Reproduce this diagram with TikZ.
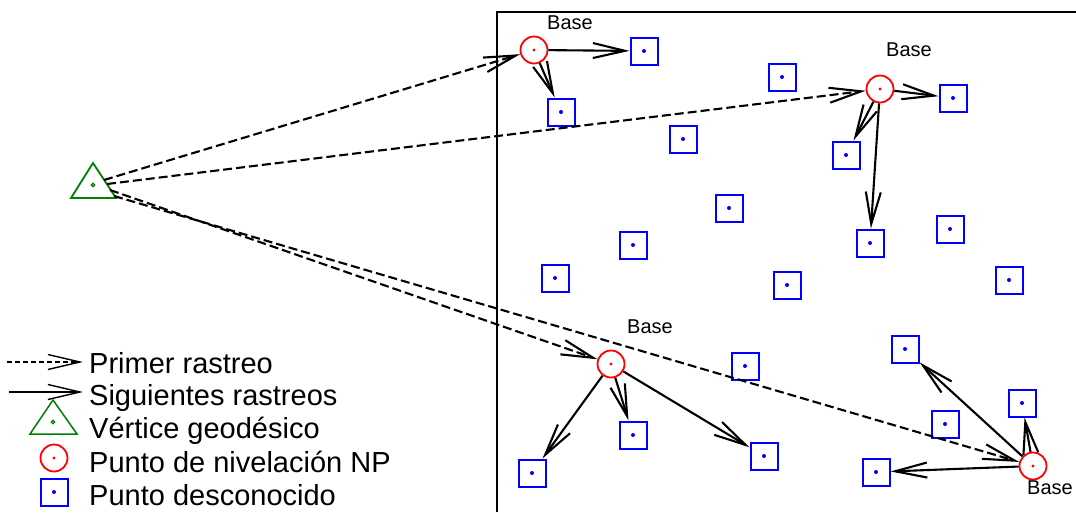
\documentclass[tikz,border=0pt]{standalone}
\usepackage{fontspec}
\setmainfont{Liberation Sans}
\usetikzlibrary{arrows.meta}
\definecolor{ptred}{RGB}{255,0,0}
\definecolor{ptblue}{RGB}{0,0,255}
\definecolor{ptgreen}{RGB}{0,128,0}
\tikzset{
 unk/.style={draw=ptblue, line width=2pt, minimum size=27pt, inner sep=0pt,
   path picture={\fill[ptblue] (path picture bounding box.center) circle (2pt);}},
 np/.style={circle, draw=ptred, line width=1.8pt, minimum size=27pt, inner sep=0pt,
   path picture={\fill[ptred] (path picture bounding box.center) circle (1.6pt);}},
 trk/.style={line width=2.1pt, -{Straight Barb[length=32pt,width=15pt]}},
 first/.style={trk, dash pattern=on 9pt off 4pt},
 legtrk/.style={line width=1.4pt, -{Straight Barb[length=32pt,width=15pt]}},
 legfirst/.style={legtrk, dash pattern=on 5pt off 3pt},
 baselbl/.style={font=\fontsize{20}{24}\selectfont, inner sep=0pt},
 leg/.style={font=\fontsize{29}{34}\selectfont, anchor=base west, inner sep=0pt},
 vert/.style={draw=ptgreen, line width=1.8pt, line join=miter},
}
\begin{document}
\begin{tikzpicture}[x=1pt,y=-1pt]
\useasboundingbox (0,0) rectangle (1076,512);
% frame
\draw[line width=2.2pt] (497,512) -- (497,12) -- (1076,12);
% geodetic vertex
\draw[vert] (93,163) -- (116,198) -- (71,198) -- cycle;
\draw[ptgreen, line width=1.2pt] (93,185) circle (1.8pt);
\coordinate (t1) at (104,180);
\coordinate (t2) at (107,184);
\coordinate (t3) at (110,190);
\coordinate (t4) at (114,196);
% bases
\node[np] (b1) at (534,50) {};
\node[np] (b2) at (880,89) {};
\node[np] (b3) at (611,364) {};
\node[np] (b4) at (1033,466) {};
\node[baselbl] (lb1) at (570,23) {Base};
\node[baselbl] (lb2) at (909,50) {Base};
\node[baselbl] (lb3) at (650,327) {Base};
\node[baselbl] (lb4) at (1050,488) {Base};
% unknown points
\node[unk] (p1) at (644,51) {};
\node[unk] (p2) at (561,112) {};
\node[unk] (p3) at (782,77) {};
\node[unk] (p4) at (683,139) {};
\node[unk] (p5) at (953,98) {};
\node[unk] (p6) at (846,155) {};
\node[unk] (p7) at (729,208) {};
\node[unk] (p8) at (870,243) {};
\node[unk] (p9) at (950,229) {};
\node[unk] (p10) at (633,245) {};
\node[unk] (p11) at (555,278) {};
\node[unk] (p12) at (787,285) {};
\node[unk] (p13) at (1009,280) {};
\node[unk] (p14) at (905,349) {};
\node[unk] (p15) at (745,366) {};
\node[unk] (p16) at (1022,403) {};
\node[unk] (p17) at (945,424) {};
\node[unk] (p18) at (633,435) {};
\node[unk] (p19) at (764,456) {};
\node[unk] (p20) at (532,473) {};
\node[unk] (p21) at (876,472) {};
% first tracking
\draw[first] (t1) -- (b1);
\draw[first] (t2) -- (b2);
\draw[first] (t3) -- (b3);
\draw[first] (t4) -- (b4);
% following trackings
\draw[trk] (b1) -- (p1);
\draw[trk] (b1) -- (p2);
\draw[trk] (b2) -- (p5);
\draw[trk] (b2) -- (p6);
\draw[trk] (b2) -- (p8);
\draw[trk] (b3) -- (p20);
\draw[trk] (b3) -- (p18);
\draw[trk] (b3) -- (p19);
\draw[trk] (b4) -- (p14);
\draw[trk] (b4) -- (p16);
\draw[trk] (b4) -- (p21);
% legend
\coordinate (la1) at (7,362);
\coordinate (la2) at (83,362);
\coordinate (lb1s) at (9,392);
\coordinate (lb2s) at (83,392);
\draw[legfirst] (la1) -- (la2);
\draw[legtrk] (lb1s) -- (lb2s);
\draw[vert, line width=1.5pt] (53,400) -- (77,434) -- (30,434) -- cycle;
\draw[ptgreen, line width=1.2pt] (53,422) circle (1.8pt);
\node[np] (lc) at (54,458) {};
\node[unk] (ls) at (54,492) {};
\node[leg] (t_a) at (89,373) {Primer rastreo};
\node[leg] (t_b) at (89,405) {Siguientes rastreos};
\node[leg] (t_c) at (89,438) {Vértice geodésico};
\node[leg] (t_d) at (89,472) {Punto de nivelación NP};
\node[leg] (t_e) at (89,505) {Punto desconocido};
\end{tikzpicture}
\end{document}
